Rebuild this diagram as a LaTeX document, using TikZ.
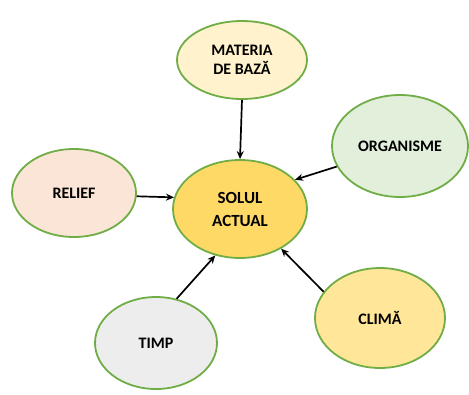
\documentclass[tikz,border=0pt]{standalone}
\usepackage{fontspec}
\setmainfont{Carlito}
\usetikzlibrary{shapes.geometric,arrows.meta}
\definecolor{edgegreen}{HTML}{70AD47}
\definecolor{fmat}{HTML}{FFF2CC}
\definecolor{fsol}{HTML}{FFD966}
\definecolor{forg}{HTML}{E2EFDA}
\definecolor{frel}{HTML}{FBE5D6}
\definecolor{ftimp}{HTML}{EDEDED}
\definecolor{fclim}{HTML}{FFE699}
\tikzset{
  blob/.style={ellipse, draw=edgegreen, line width=1.8pt, inner sep=0pt, align=center,
    font=\fontsize{16}{19}\selectfont\bfseries, text=black},
  arr/.style={-{Stealth[length=8pt,width=7pt]}, line width=1.7pt, black}
}
\begin{document}
\begin{tikzpicture}[x=1pt,y=-1pt]
\useasboundingbox (0,0) rectangle (469,394);
\node[blob, fill=fmat, minimum width=130pt, minimum height=78pt] (mat) at (242,60) {MATERIA\\DE BAZĂ};
\node[blob, fill=fsol, minimum width=134pt, minimum height=98pt, font=\fontsize{17}{23}\selectfont\bfseries] (sol) at (240,209) {SOLUL\\ACTUAL};
\node[blob, fill=forg, minimum width=136pt, minimum height=102pt] (org) at (400,146) {ORGANISME};
\node[blob, fill=frel, minimum width=124pt, minimum height=88pt] (rel) at (74,193) {RELIEF};
\node[blob, fill=ftimp, minimum width=122pt, minimum height=92pt] (timp) at (156,343) {TIMP};
\node[blob, fill=fclim, minimum width=130pt, minimum height=100pt] (clim) at (380,318) {CLIMĂ};
\draw[arr] (mat.south) -- (sol.north);
\draw[arr] (org.-162) -- (sol.28);
\draw[arr] (rel.-3) -- (sol.170);
\draw[arr] (timp.65) -- (sol.-118);
\draw[arr] (clim.155) -- (sol.-44);
\end{tikzpicture}
\end{document}
